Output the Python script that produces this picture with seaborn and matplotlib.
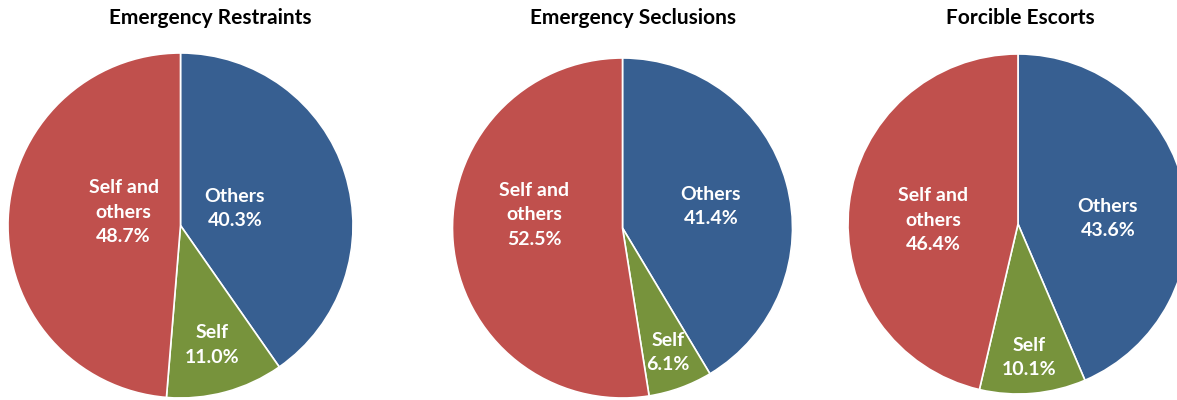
import numpy as np
import matplotlib
matplotlib.use('Agg')
import matplotlib.pyplot as plt
import seaborn as sns

categories = ['Others', 'Self', 'Self and others']
label_text = ['Others', 'Self', 'Self and\nothers']
restraints = [40.3, 11.0, 48.7]
seclusions = [41.4, 6.1, 52.5]
escorts = [43.6, 10.1, 46.4]
titles = ['Emergency Restraints', 'Emergency Seclusions', 'Forcible Escorts']

colors = ['#375F91', '#77933C', '#C0504D']

sns.set_theme(style='white')
plt.rcParams['font.family'] = ['Lato', 'DejaVu Sans']

W, H = 1177, 400
fig = plt.figure(figsize=(W / 100, H / 100), dpi=100)

# pie centre (px), radius (px), label distance per slice, vertical nudge (px, up), title centre x
layout = [
    dict(cx=180.5, cy=225.5, r=172.5, dist=[0.33, 0.70, 0.33], up=[0, -3, 11], tx=210),
    dict(cx=622.5, cy=228.0, r=170.0, dist=[0.54, 0.78, 0.52], up=[-3, 0, 20], tx=633),
    dict(cx=1018.0, cy=224.0, r=170.0, dist=[0.54, 0.77, 0.50], up=[-13, -3, -6], tx=1020),
]

for values, title, lay in zip([restraints, seclusions, escorts], titles, layout):
    r = lay['r']
    ax = fig.add_axes([(lay['cx'] - r) / W, (H - lay['cy'] - r) / H, 2 * r / W, 2 * r / H])
    wedges, _ = ax.pie(values, colors=colors, startangle=90, counterclock=False,
                       radius=1.0, wedgeprops=dict(edgecolor='white', linewidth=1.2))
    ax.set_xlim(-1, 1)
    ax.set_ylim(-1, 1)
    ax.set_aspect('equal')
    ax.axis('off')
    for w, lab, v, d, up in zip(wedges, label_text, values, lay['dist'], lay['up']):
        ang = np.deg2rad((w.theta1 + w.theta2) / 2)
        ax.text(d * np.cos(ang), d * np.sin(ang) + up / r, f'{lab}\n{v:.1f}%',
                ha='center', va='center', color='white', fontsize=14,
                fontweight='bold', linespacing=1.55)
    fig.text(lay['tx'] / W, 1 - 18 / H, title, ha='center', va='center',
             fontsize=15, fontweight='bold', color='black')

fig.savefig('out.png', dpi=100)
